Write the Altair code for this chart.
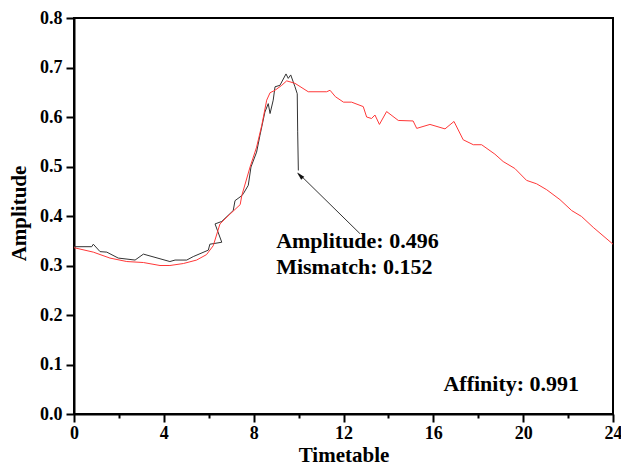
import altair as alt
import pandas as pd

# ---- data ----
fit_t = [0.0, 0.86, 1.6, 2.35, 3.09, 3.83, 4.27, 4.87, 5.46, 5.9, 6.2, 6.5, 6.95, 7.4, 7.47,
         7.84, 8.13, 8.36, 8.58, 8.73, 8.95, 9.25, 9.47, 9.84, 10.43, 11.25, 11.4, 11.64,
         12.0, 12.36, 12.88, 13.03, 13.25, 13.4, 13.6, 13.92, 14.44, 15.1, 15.26, 15.85,
         16.52, 16.92, 17.33, 17.78, 18.15, 18.74, 19.11, 19.63, 20.15, 20.6, 21.05, 21.64,
         22.16, 22.6, 23.12, 24.0]
fit_amp = [0.336, 0.327, 0.315, 0.308, 0.306, 0.300, 0.300, 0.304, 0.311, 0.322, 0.340, 0.384,
           0.404, 0.423, 0.441, 0.499, 0.539, 0.583, 0.634, 0.649, 0.654, 0.664, 0.673, 0.668,
           0.651, 0.651, 0.654, 0.641, 0.630, 0.630, 0.621, 0.600, 0.597, 0.604, 0.585, 0.611,
           0.593, 0.592, 0.577, 0.585, 0.576, 0.591, 0.554, 0.544, 0.544, 0.525, 0.510, 0.496,
           0.472, 0.465, 0.453, 0.433, 0.411, 0.399, 0.377, 0.343]

obs_t = [0.0, 0.79, 0.86, 1.16, 1.46, 1.97, 2.72, 3.09, 4.27, 4.5, 5.02, 5.31, 5.98, 6.05,
         6.58, 6.28, 6.58, 7.09, 7.17, 7.47, 7.54, 7.76, 7.88, 8.13, 8.28, 8.5, 8.65, 8.73,
         8.87, 8.95, 9.17, 9.44, 9.54, 9.65, 9.84, 9.94, 9.96, 9.99]
obs_amp = [0.338, 0.338, 0.343, 0.328, 0.327, 0.315, 0.311, 0.323, 0.308, 0.311, 0.311, 0.318,
           0.331, 0.343, 0.347, 0.384, 0.389, 0.411, 0.431, 0.441, 0.445, 0.462, 0.499, 0.529,
           0.563, 0.610, 0.627, 0.607, 0.634, 0.661, 0.664, 0.687, 0.678, 0.685, 0.661, 0.647,
           0.570, 0.492]

x_ticks = list(range(0, 25, 2))
y_ticks = [round(i * 0.1, 1) for i in range(9)]

note_labels = ["Amplitude: 0.496", "Mismatch: 0.152", "Affinity: 0.991"]
note_t = [9.0, 9.0, 16.45]
note_amp = [0.336, 0.283, 0.046]

arrow_t = [12.73, 10.0]
arrow_amp = [0.3645, 0.486]

# ---- tables ----
fit = pd.DataFrame({"t": fit_t, "amp": fit_amp, "i": range(len(fit_t))})
obs = pd.DataFrame({"t": obs_t, "amp": obs_amp, "i": range(len(obs_t))})
notes = pd.DataFrame({"t": note_t, "amp": note_amp, "label": note_labels})
arrow = pd.DataFrame({"t": arrow_t, "amp": arrow_amp, "i": [0, 1]})
head = arrow.iloc[[1]].copy()
head["t"] = [10.08]
head["amp"] = [0.481]

FONT = "Liberation Serif"

xs = alt.Scale(domain=[0, 24], nice=False, zero=False)
ys = alt.Scale(domain=[0, 0.8], nice=False)

xaxis = alt.Axis(
    values=x_ticks,
    title="Timetable",
    labelExpr="datum.value % 4 == 0 ? datum.label : ''",
    tickSize={"expr": "datum.value % 4 == 0 ? 8 : 4"},
    labelFlush=False,
    labelOverlap=False,
    labelPadding=2,
    titleY=47,
    titleBaseline="alphabetic",
)
yaxis = alt.Axis(
    values=y_ticks,
    format=".1f",
    title="Amplitude",
    tickSize=8,
    labelPadding=4,
    labelOverlap=False,
    titleX=-55,
    titleY=195,
    titleBaseline="middle",
)

X = alt.X("t:Q", scale=xs, axis=xaxis)
Y = alt.Y("amp:Q", scale=ys, axis=yaxis)

obs_line = alt.Chart(obs).mark_line(color="#333333", strokeWidth=1).encode(x=X, y=Y, order="i:O")
fit_line = alt.Chart(fit).mark_line(color="#ff3838", strokeWidth=1).encode(x=X, y=Y, order="i:O")
arrow_line = alt.Chart(arrow).mark_line(color="#333333", strokeWidth=1).encode(x=X, y=Y, order="i:O")
arrow_head = alt.Chart(head).mark_point(
    shape="M0,-1 L0.45,0.7 L-0.45,0.7 Z", filled=True, color="#111111", size=90, angle=315, opacity=1
).encode(x=X, y=Y)
texts = alt.Chart(notes).mark_text(
    align="left", baseline="alphabetic", font=FONT, fontWeight="bold", fontSize=22, color="black"
).encode(x=X, y=Y, text="label:N")

chart = (
    alt.layer(obs_line, fit_line, arrow_line, arrow_head, texts)
    .properties(
        width=539,
        height=396,
        autosize=alt.AutoSizeParams(type="none"),
        padding={"left": 74, "top": 18, "right": 8, "bottom": 52},
        background="white",
    )
    .configure_view(stroke="black", strokeWidth=2)
    .configure_axis(
        grid=False,
        domainColor="black",
        domainWidth=2,
        tickColor="black",
        tickWidth=2,
        labelFont=FONT,
        labelFontWeight="bold",
        labelFontSize=18,
        labelColor="black",
        titleFont=FONT,
        titleFontWeight="bold",
        titleFontSize=21,
        titleColor="black",
    )
)

chart.save("out.html", embed_options={"renderer": "svg", "actions": False})
